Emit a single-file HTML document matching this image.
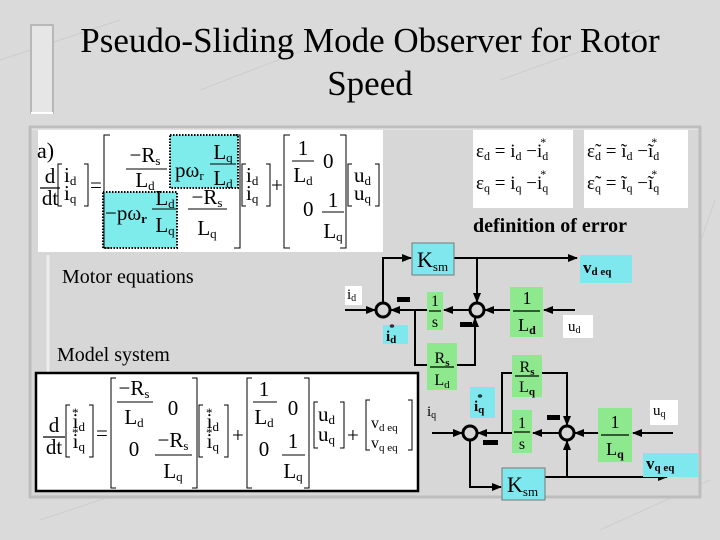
<!DOCTYPE html>
<html><head><meta charset="utf-8"><style>
html,body{margin:0;padding:0;width:720px;height:540px;overflow:hidden;background:#dcdcdc}
svg{display:block}
text{font-family:"Liberation Serif",serif;fill:#000}
</style></head><body>
<svg width="720" height="540" viewBox="0 0 720 540" xmlns="http://www.w3.org/2000/svg">
<defs>
<marker id="a" markerWidth="10" markerHeight="8" refX="9" refY="4" orient="auto" markerUnits="userSpaceOnUse"><path d="M0,0 L10,4 L0,8 z" fill="#000"/></marker>
</defs>
<rect width="720" height="540" fill="#dadada"/>
<g stroke="#c4c4c4" stroke-width="1" opacity="0.6" fill="none">
<path d="M0,60 L120,20 M200,90 L330,40 M500,80 L640,30 M40,520 L160,480 M600,530 L710,480 M680,300 L715,200"/>
</g>
<rect x="31" y="25" width="22" height="88" fill="#e6e6e6" stroke="#b8b8b8" stroke-width="2"/>
<line x1="31" y1="113" x2="53" y2="113" stroke="#fff" stroke-width="2"/>
<text x="370" y="52" font-size="35" text-anchor="middle">Pseudo-Sliding Mode Observer for Rotor</text>
<text x="370" y="95" font-size="35" text-anchor="middle">Speed</text>
<rect x="30" y="127" width="670" height="370" fill="#d7d7d7" stroke="#bdbdbd" stroke-width="3"/>
<line x1="32" y1="129" x2="698" y2="129" stroke="#eee" stroke-width="1"/>
<line x1="48" y1="255" x2="48" y2="372" stroke="#eee" stroke-width="3"/>

<rect x="38" y="130" width="345" height="122" fill="#fff"/>
<rect x="170" y="135" width="68" height="53" fill="#7fecec" stroke="#000" stroke-width="2" stroke-dasharray="1.5 1.5"/>
<rect x="103" y="192" width="74" height="56" fill="#7fecec" stroke="#000" stroke-width="2" stroke-dasharray="1.5 1.5"/>
<g font-size="21">
<text x="37" y="158" font-size="22">a)</text>
<text x="50" y="183" text-anchor="middle">d</text>
<line x1="40" y1="188" x2="60" y2="188" stroke="#000" stroke-width="1.2"/>
<text x="50" y="205" text-anchor="middle">dt</text>
<path d="M62,164 h-4 v42 h4 M84,164 h4 v42 h-4" fill="none" stroke="#000" stroke-width="1"/>
<text x="64" y="182">i<tspan font-size="13" dy="3">d</tspan></text>
<text x="64" y="200">i<tspan font-size="13" dy="3">q</tspan></text>
<text x="90" y="192">=</text>
<path d="M110,135 h-6 v113 h6 M234,135 h6 v113 h-6" fill="none" stroke="#000" stroke-width="1"/>
<text x="145" y="162" text-anchor="middle">−R<tspan font-size="13" dy="3">s</tspan></text>
<line x1="126" y1="169" x2="167" y2="169" stroke="#000" stroke-width="1"/>
<text x="145" y="187" text-anchor="middle">L<tspan font-size="13" dy="3">d</tspan></text>
<text x="175" y="177">pω<tspan font-size="13" dy="3">r</tspan></text>
<text x="223" y="159" text-anchor="middle">L<tspan font-size="13" dy="3">q</tspan></text>
<line x1="210" y1="164" x2="236" y2="164" stroke="#000" stroke-width="1"/>
<text x="223" y="185" text-anchor="middle">L<tspan font-size="13" dy="3">d</tspan></text>
<text x="105" y="220">−pω<tspan font-size="13" dy="3" font-weight="bold">r</tspan></text>
<text x="165" y="205" text-anchor="middle">L<tspan font-size="13" dy="3">d</tspan></text>
<line x1="152" y1="209" x2="177" y2="209" stroke="#000" stroke-width="1"/>
<text x="165" y="232" text-anchor="middle">L<tspan font-size="13" dy="3">q</tspan></text>
<text x="207" y="204" text-anchor="middle">−R<tspan font-size="13" dy="3">s</tspan></text>
<line x1="188" y1="209" x2="227" y2="209" stroke="#000" stroke-width="1"/>
<text x="207" y="235" text-anchor="middle">L<tspan font-size="13" dy="3">q</tspan></text>
<path d="M246,164 h-4 v42 h4 M266,164 h4 v42 h-4" fill="none" stroke="#000" stroke-width="1"/>
<text x="246" y="182">i<tspan font-size="13" dy="3">d</tspan></text>
<text x="246" y="200">i<tspan font-size="13" dy="3">q</tspan></text>
<text x="271" y="192">+</text>
<path d="M290,135 h-6 v113 h6 M340,135 h6 v113 h-6" fill="none" stroke="#000" stroke-width="1"/>
<text x="303" y="155" text-anchor="middle">1</text>
<line x1="292" y1="161" x2="314" y2="161" stroke="#000" stroke-width="1"/>
<text x="303" y="182" text-anchor="middle">L<tspan font-size="13" dy="3">d</tspan></text>
<text x="323" y="168">0</text>
<text x="303" y="216">0</text>
<text x="333" y="207" text-anchor="middle">1</text>
<line x1="322" y1="212" x2="344" y2="212" stroke="#000" stroke-width="1"/>
<text x="333" y="238" text-anchor="middle">L<tspan font-size="13" dy="3">q</tspan></text>
<path d="M352,164 h-4 v42 h4 M375,164 h4 v42 h-4" fill="none" stroke="#000" stroke-width="1"/>
<text x="354" y="182">u<tspan font-size="13" dy="3">d</tspan></text>
<text x="354" y="200">u<tspan font-size="13" dy="3">q</tspan></text>
</g>

<text x="62" y="283" font-size="20">Motor equations</text>
<text x="57" y="361" font-size="20">Model system</text>

<rect x="36" y="373" width="382" height="118" fill="#fff" stroke="#000" stroke-width="2.5"/>
<g font-size="21">
<text x="54" y="432" text-anchor="middle">d</text>
<line x1="43" y1="437" x2="65" y2="437" stroke="#000" stroke-width="1.2"/>
<text x="54" y="454" text-anchor="middle">dt</text>
<path d="M70,405 h-4 v52 h4 M89,405 h4 v52 h-4" fill="none" stroke="#000" stroke-width="1"/>
<text x="72" y="428">i<tspan font-size="13" dy="3">d</tspan><tspan font-size="13" dx="-13" dy="-14">*</tspan></text>
<text x="72" y="448">i<tspan font-size="13" dy="3">q</tspan><tspan font-size="13" dx="-13" dy="-14">*</tspan></text>
<text x="96" y="440">=</text>
<path d="M116,378 h-5 v110 h5 M192,378 h5 v110 h-5" fill="none" stroke="#000" stroke-width="1"/>
<text x="134" y="395" text-anchor="middle">−R<tspan font-size="13" dy="3">s</tspan></text>
<line x1="117" y1="402" x2="153" y2="402" stroke="#000" stroke-width="1"/>
<text x="134" y="424" text-anchor="middle">L<tspan font-size="13" dy="3">d</tspan></text>
<text x="173" y="415" text-anchor="middle">0</text>
<text x="134" y="456" text-anchor="middle">0</text>
<text x="173" y="447" text-anchor="middle">−R<tspan font-size="13" dy="3">s</tspan></text>
<line x1="155" y1="455" x2="192" y2="455" stroke="#000" stroke-width="1"/>
<text x="173" y="478" text-anchor="middle">L<tspan font-size="13" dy="3">q</tspan></text>
<path d="M203,405 h-4 v52 h4 M224,405 h4 v52 h-4" fill="none" stroke="#000" stroke-width="1"/>
<text x="206" y="428">i<tspan font-size="13" dy="3">d</tspan><tspan font-size="13" dx="-13" dy="-14">*</tspan></text>
<text x="206" y="448">i<tspan font-size="13" dy="3">q</tspan><tspan font-size="13" dx="-13" dy="-14">*</tspan></text>
<text x="232" y="442">+</text>
<path d="M252,378 h-5 v110 h5 M304,378 h5 v110 h-5" fill="none" stroke="#000" stroke-width="1"/>
<text x="264" y="396" text-anchor="middle">1</text>
<line x1="253" y1="402" x2="277" y2="402" stroke="#000" stroke-width="1"/>
<text x="264" y="424" text-anchor="middle">L<tspan font-size="13" dy="3">d</tspan></text>
<text x="293" y="415" text-anchor="middle">0</text>
<text x="264" y="456" text-anchor="middle">0</text>
<text x="293" y="448" text-anchor="middle">1</text>
<line x1="282" y1="455" x2="305" y2="455" stroke="#000" stroke-width="1"/>
<text x="293" y="478" text-anchor="middle">L<tspan font-size="13" dy="3">q</tspan></text>
<path d="M318,402 h-4 v46 h4 M340,402 h4 v46 h-4" fill="none" stroke="#000" stroke-width="1"/>
<text x="318" y="421">u<tspan font-size="13" dy="3">d</tspan></text>
<text x="318" y="441">u<tspan font-size="13" dy="3">q</tspan></text>
<text x="347" y="442">+</text>
<path d="M370,400 h-4 v50 h4 M408,400 h4 v50 h-4" fill="none" stroke="#000" stroke-width="1"/>
<text x="371" y="428" font-size="16">v<tspan font-size="11" dy="3">d eq</tspan></text>
<text x="371" y="448" font-size="16">v<tspan font-size="11" dy="3">q eq</tspan></text>
</g>

<rect x="473" y="130" width="100" height="78" fill="#fff"/>
<rect x="584" y="130" width="104" height="78" fill="#fff"/>
<g font-size="19">
<text x="476" y="157">ε<tspan font-size="12" dy="3">d</tspan><tspan dy="-3"> = i</tspan><tspan font-size="12" dy="3">d</tspan><tspan dy="-3"> −i</tspan><tspan font-size="12" dy="3">d</tspan><tspan font-size="12" dx="-8" dy="-14">*</tspan></text>
<text x="476" y="189">ε<tspan font-size="12" dy="3">q</tspan><tspan dy="-3"> = i</tspan><tspan font-size="12" dy="3">q</tspan><tspan dy="-3"> −i</tspan><tspan font-size="12" dy="3">q</tspan><tspan font-size="12" dx="-8" dy="-14">*</tspan></text>
<text x="587" y="157">ε̃<tspan font-size="12" dy="3">d</tspan><tspan dy="-3"> = ĩ</tspan><tspan font-size="12" dy="3">d</tspan><tspan dy="-3"> −ĩ</tspan><tspan font-size="12" dy="3">d</tspan><tspan font-size="12" dx="-8" dy="-14">*</tspan></text>
<text x="587" y="189">ε̃<tspan font-size="12" dy="3">q</tspan><tspan dy="-3"> = ĩ</tspan><tspan font-size="12" dy="3">q</tspan><tspan dy="-3"> −ĩ</tspan><tspan font-size="12" dy="3">q</tspan><tspan font-size="12" dx="-8" dy="-14">*</tspan></text>
</g>
<text x="473" y="232" font-size="20" font-weight="bold">definition of error</text>

<g stroke="#000" stroke-width="2" fill="none">
<line x1="345" y1="310" x2="375" y2="310" marker-end="url(#a)"/>
<polyline points="383,303 383,258 411,258" marker-end="url(#a)"/>
<line x1="454" y1="258" x2="577" y2="258" marker-end="url(#a)"/>
<line x1="477" y1="258" x2="477" y2="302" marker-end="url(#a)"/>
<line x1="427" y1="310" x2="391" y2="310" marker-end="url(#a)"/>
<line x1="470" y1="310" x2="444" y2="310" marker-end="url(#a)"/>
<line x1="510" y1="310" x2="485" y2="310" marker-end="url(#a)"/>
<line x1="575" y1="310" x2="544" y2="310" marker-end="url(#a)"/>
<polyline points="415,310 415,365 475,365 475,318" marker-end="url(#a)"/>
<line x1="432" y1="433" x2="462" y2="433" marker-end="url(#a)"/>
<line x1="512" y1="433" x2="478" y2="433" marker-end="url(#a)"/>
<line x1="559" y1="433" x2="533" y2="433" marker-end="url(#a)"/>
<line x1="598" y1="433" x2="575" y2="433" marker-end="url(#a)"/>
<line x1="673" y1="433" x2="633" y2="433" marker-end="url(#a)"/>
<polyline points="502,433 502,373 567,373 567,425" marker-end="url(#a)"/>
<polyline points="470,441 470,487 501,487" marker-end="url(#a)"/>
<line x1="545" y1="477" x2="667" y2="477" marker-end="url(#a)"/>
<line x1="567" y1="477" x2="567" y2="441" marker-end="url(#a)"/>
<circle cx="383" cy="310" r="7" stroke-width="3"/>
<circle cx="477" cy="310" r="7" stroke-width="3"/>
<circle cx="470" cy="433" r="7" stroke-width="3"/>
<circle cx="567" cy="433" r="7" stroke-width="3"/>
</g>
<g fill="#000">
<rect x="397" y="297" width="13" height="5"/>
<rect x="460" y="322" width="12" height="5"/>
<rect x="547" y="415" width="13" height="5"/>
<rect x="483" y="440" width="15" height="5"/>
</g>
<rect x="412" y="243" width="42" height="32" fill="#7fe8ee" stroke="#777" stroke-width="1"/>
<text x="417" y="267" font-size="22">K<tspan font-size="13" dy="4">sm</tspan></text>
<rect x="502" y="468" width="43" height="32" fill="#7fe8ee" stroke="#777" stroke-width="1"/>
<text x="507" y="492" font-size="22">K<tspan font-size="13" dy="4">sm</tspan></text>
<rect x="580" y="255" width="52" height="28" fill="#7fe8ee"/>
<text x="583" y="273" font-size="17" font-weight="bold">v<tspan font-size="11" dy="2">d eq</tspan></text>
<rect x="643" y="453" width="55" height="24" fill="#7fe8ee"/>
<text x="646" y="469" font-size="17" font-weight="bold">v<tspan font-size="11" dy="2">q eq</tspan></text>
<rect x="345" y="286" width="17" height="19" fill="#fff"/>
<text x="347" y="299" font-size="15">i<tspan font-size="10" dy="2">d</tspan></text>
<rect x="563" y="315" width="30" height="23" fill="#fff"/>
<text x="568" y="331" font-size="15">u<tspan font-size="10" dy="2">d</tspan></text>
<rect x="650" y="400" width="28" height="25" fill="#fff"/>
<text x="653" y="415" font-size="15">u<tspan font-size="10" dy="2">q</tspan></text>
<text x="427" y="416" font-size="15">i<tspan font-size="10" dy="2">q</tspan></text>
<rect x="383" y="325" width="25" height="19" fill="#7fe8ee"/>
<text x="386" y="341" font-size="15" font-weight="bold">i<tspan font-size="11" dy="2">d</tspan><tspan font-size="11" dx="-7" dy="-12">*</tspan></text>
<rect x="470" y="387" width="25" height="31" fill="#7fe8ee"/>
<text x="474" y="411" font-size="15" font-weight="bold">i<tspan font-size="11" dy="2">q</tspan><tspan font-size="11" dx="-7" dy="-12">*</tspan></text>
<g fill="#8ee88e">
<rect x="427" y="292" width="16" height="38"/>
<rect x="510" y="287" width="33" height="50"/>
<rect x="427" y="343" width="30" height="47"/>
<rect x="512" y="355" width="30" height="42"/>
<rect x="512" y="410" width="20" height="43"/>
<rect x="598" y="408" width="34" height="54"/>
</g>
<g stroke="#000" stroke-width="1.2">
<line x1="429" y1="311" x2="441" y2="311"/>
<line x1="513" y1="311" x2="540" y2="311"/>
<line x1="430" y1="367" x2="454" y2="367"/>
<line x1="515" y1="376" x2="539" y2="376"/>
<line x1="514" y1="432" x2="530" y2="432"/>
<line x1="601" y1="435" x2="629" y2="435"/>
</g>
<g font-size="16" text-anchor="middle">
<text x="435" y="306">1</text><text x="435" y="327">s</text>
<text x="527" y="304" font-size="18">1</text><text x="527" y="331" font-size="18">L<tspan font-size="12" dy="3" font-weight="bold">d</tspan></text>
<text x="442" y="363">R<tspan font-size="11" dy="3" font-weight="bold">s</tspan></text><text x="442" y="385">L<tspan font-size="11" dy="3">d</tspan></text>
<text x="527" y="372">R<tspan font-size="11" dy="3" font-weight="bold">s</tspan></text><text x="527" y="392">L<tspan font-size="11" dy="3" font-weight="bold">q</tspan></text>
<text x="522" y="428">1</text><text x="522" y="449">s</text>
<text x="615" y="428" font-size="18">1</text><text x="615" y="455" font-size="18">L<tspan font-size="12" dy="3" font-weight="bold">q</tspan></text>
</g>
</svg>
</body></html>
